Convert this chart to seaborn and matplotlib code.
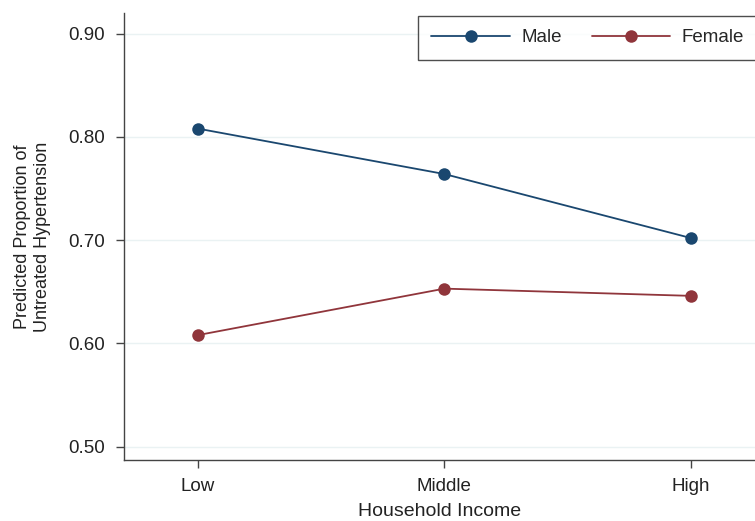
import pandas as pd
import matplotlib
matplotlib.use("Agg")
import matplotlib.pyplot as plt
import seaborn as sns

# --- data ---
income = ["Low", "Middle", "High"]
male = [0.808, 0.764, 0.702]
female = [0.608, 0.653, 0.646]
y_ticks = [0.50, 0.60, 0.70, 0.80, 0.90]

df = pd.DataFrame({
    "income": income * 2,
    "value": male + female,
    "sex": ["Male"] * 3 + ["Female"] * 3,
})

sns.set_style("white")
plt.rcParams["font.family"] = ["Liberation Sans", "DejaVu Sans"]

fig = plt.figure(figsize=(7.55, 5.21), dpi=100)
ax = fig.add_axes([124 / 755, 61 / 521, 1 - 124 / 755, 447 / 521])

palette = {"Male": "#1a476f", "Female": "#90353b"}
sns.lineplot(data=df, x="income", y="value", hue="sex", palette=palette,
             marker="o", markersize=9, markeredgewidth=0, linewidth=1.3,
             sort=False, ax=ax)

ax.set_xlim(-0.30, 2.26)
ax.set_ylim(0.487, 0.920)
ax.set_yticks(y_ticks)
ax.set_yticklabels([f"{v:.2f}" for v in y_ticks])
for v in y_ticks:
    ax.axhline(v, color="#eaf2f3", linewidth=1.0, zorder=0)

ax.set_xlabel("Household Income", fontsize=14, color="#222222", labelpad=6)
ax.set_ylabel("Predicted Proportion of\nUntreated Hypertension", fontsize=13,
              color="#222222", labelpad=12, linespacing=1.3)

for s in ["top", "right"]:
    ax.spines[s].set_visible(False)
for s in ["left", "bottom"]:
    ax.spines[s].set_color("#444444")
    ax.spines[s].set_linewidth(1.0)
ax.tick_params(axis="both", which="both", length=5.8, width=1.0, color="#444444",
               labelsize=13.5, labelcolor="#222222", left=True, bottom=True)
ax.tick_params(axis="x", pad=7)
ax.tick_params(axis="y", pad=8)

leg = ax.legend(loc="upper left", bbox_to_anchor=(0.466, 0.993), ncol=2,
                frameon=True, fancybox=False, fontsize=13.5,
                handlelength=4.2, handletextpad=0.6, columnspacing=1.6,
                borderpad=0.7, borderaxespad=0, title=None)
leg.get_frame().set_edgecolor("#222222")
leg.get_frame().set_linewidth(1.0)

fig.savefig("out.png", dpi=100)
